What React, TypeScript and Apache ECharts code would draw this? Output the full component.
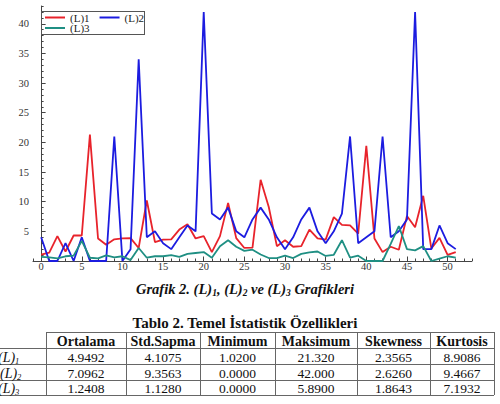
import React, { useEffect, useRef } from "react";
import * as echarts from "echarts";

// ---- Data ----
const seriesNames = ["(L)1", "(L)2", "(L)3"];
const L1 = [1.07, 1.4, 4.2, 1.6, 4.3, 4.3, 21.32, 3.8, 2.75, 3.65, 3.8, 3.85, 2.2, 10.2, 3.2, 3.6, 3.65, 5.3, 6.2, 3.8, 4.2, 1.5, 4.2, 9.8, 3.85, 2.2, 2.25, 13.7, 9.1, 2.5, 3.5, 2.4, 2.5, 5.3, 3.8, 3.6, 7.4, 6.1, 6.0, 4.6, 19.4, 3.8, 1.5, 2.4, 1.9, 7.6, 5.7, 11.0, 2.1, 3.9, 1.02, 1.5];
const L2 = [4, 0, 0, 3, 0, 4, 0, 0, 0, 21, 0, 2, 34, 4, 5, 3, 2, 4, 6, 5, 42, 8, 7, 9, 5, 4, 7, 9, 7, 4, 2, 4, 7, 9, 5, 3, 5, 8, 21, 3, 4, 5, 21, 4, 5, 7, 42, 2, 2, 6, 3, 2];
const L3 = [0.7, 0.6, 0.45, 0.8, 0.9, 3.4, 0.55, 0.45, 0.95, 0.6, 0.8, 0.15, 2.2, 0.55, 0.8, 0.8, 1.0, 0.7, 1.2, 1.35, 1.5, 0.55, 2.5, 3.5, 2.4, 1.7, 1.9, 1.1, 0.5, 0.5, 0.9, 0.5, 1.2, 1.45, 1.6, 0.85, 1.05, 3.5, 0.55, 0.9, 0, 0, 0, 2.9, 5.89, 2.0, 1.8, 2.5, 0, 0.4, 0.8, 0.55];
const seriesColors = ["#e8232b", "#1c1ce0", "#1f8f83"];

const xMajorTicks = [0, 5, 10, 15, 20, 25, 30, 35, 40, 45, 50];
const yMajorTicks = [5, 10, 15, 20, 25, 30, 35, 40];

const captionParts = ["Grafik 2. (L)", "1", ", (L)", "2", " ve (L)", "3", " Grafikleri"];
const tableTitle = "Tablo 2. Temel İstatistik Özellikleri";
const tableHeaders = ["Ortalama", "Std.Sapma", "Minimum", "Maksimum", "Skewness", "Kurtosis"];
const rowLabelSubs = ["1", "2", "3"];
const rowL1 = ["4.9492", "4.1075", "1.0200", "21.320", "2.3565", "8.9086"];
const rowL2 = ["7.0962", "9.3563", "0.0000", "42.000", "2.6260", "9.4667"];
const rowL3 = ["1.2408", "1.1280", "0.0000", "5.8900", "1.8643", "7.1932"];

// ---- Layout ----
const X_MIN = -1, X_MAX = 53, Y_MIN = 0, Y_MAX = 43;
const GRID = { left: 33, top: 6, width: 439, height: 255 };
const SERIF = "Liberation Serif";
const colEdges = [46, 126, 200, 275, 357, 430, 494];
const rowEdges = [332, 348, 364, 380, 395];
const legendBox = { left: 41, top: 11, width: 104, height: 24 };

function range(a: number, b: number) {
  const r: number[] = [];
  for (let i = a; i <= b; i++) r.push(i);
  return r;
}

export default function App() {
  const ref = useRef<HTMLDivElement>(null);
  useEffect(() => {
    if (!ref.current) return;
    const chart = echarts.init(ref.current, undefined, { renderer: "svg" });
    const axisColor = "#444";
    const labelStyle = { fontFamily: SERIF, fontSize: 10.5, color: "#333" };

    const graphic: any[] = [];

    // caption
    const capRich = {
      b: { fontFamily: SERIF, fontSize: 14.5, fontWeight: "bold", fontStyle: "italic", fill: "#111", lineHeight: 18, verticalAlign: "middle" },
      s: { fontFamily: SERIF, fontSize: 9.5, fontWeight: "bold", fontStyle: "italic", fill: "#111", lineHeight: 18, verticalAlign: "bottom", padding: [6, 0, 0, 0] },
    };
    const capText = captionParts.map((p, i) => (i % 2 === 0 ? `{b|${p}}` : `{s|${p}}`)).join("");
    graphic.push({ type: "text", x: 245, y: 289, style: { text: capText, rich: capRich, align: "center", verticalAlign: "middle", textAlign: "center", textVerticalAlign: "middle" } });

    // table title
    graphic.push({ type: "text", x: 245, y: 323, style: { text: tableTitle, fontFamily: SERIF, fontSize: 15, fontWeight: "bold", fill: "#111", align: "center", verticalAlign: "middle", textAlign: "center", textVerticalAlign: "middle" } });

    // table lines
    const lineStyle = { stroke: "#666", lineWidth: 1 };
    graphic.push({ type: "line", shape: { x1: colEdges[0], y1: rowEdges[0] + 0.5, x2: colEdges[6], y2: rowEdges[0] + 0.5 }, style: lineStyle });
    for (let r = 1; r < rowEdges.length; r++) {
      graphic.push({ type: "line", shape: { x1: -5, y1: rowEdges[r] + 0.5, x2: colEdges[6], y2: rowEdges[r] + 0.5 }, style: lineStyle });
    }
    colEdges.forEach((cx) => {
      graphic.push({ type: "line", shape: { x1: cx + 0.5, y1: rowEdges[0], x2: cx + 0.5, y2: rowEdges[rowEdges.length - 1] }, style: lineStyle });
    });
    // headers
    tableHeaders.forEach((h, i) => {
      graphic.push({ type: "text", x: (colEdges[i] + colEdges[i + 1]) / 2, y: (rowEdges[0] + rowEdges[1]) / 2 + 1, style: { text: h, fontFamily: SERIF, fontSize: 14, fontWeight: "bold", fill: "#111", align: "center", verticalAlign: "middle", textAlign: "center", textVerticalAlign: "middle" } });
    });
    const rows = [rowL1, rowL2, rowL3];
    const lblRich = {
      i: { fontFamily: SERIF, fontSize: 14, fontStyle: "italic", fill: "#111", lineHeight: 16, verticalAlign: "middle" },
      s: { fontFamily: SERIF, fontSize: 8.5, fontStyle: "italic", fill: "#111", lineHeight: 16, verticalAlign: "bottom", padding: [5, 0, 0, 0] },
    };
    rows.forEach((row, r) => {
      const cy = (rowEdges[r + 1] + rowEdges[r + 2]) / 2 + 1;
      graphic.push({ type: "text", x: r === 1 ? 0 : -2, y: cy, style: { text: `{i|(L)}{s|${rowLabelSubs[r]}}`, rich: lblRich, align: "left", verticalAlign: "middle", textAlign: "left", textVerticalAlign: "middle" } });
      row.forEach((v, c) => {
        graphic.push({ type: "text", x: (colEdges[c] + colEdges[c + 1]) / 2, y: cy, style: { text: v, fontFamily: SERIF, fontSize: 13.5, fill: "#111", align: "center", verticalAlign: "middle", textAlign: "center", textVerticalAlign: "middle" } });
      });
    });

    const legendText = { fontFamily: SERIF, fontSize: 11, color: "#222" };
    const data = [L1, L2, L3];
    chart.setOption({
      animation: false,
      backgroundColor: "#fff",
      grid: { ...GRID, containLabel: false },
      legend: [
        {
          data: [seriesNames[0], seriesNames[1]], left: 45, top: 12, padding: 0,
          itemWidth: 20, itemHeight: 2, icon: "rect", itemGap: 10, textStyle: legendText,
        },
        {
          data: [seriesNames[2]], left: 45, top: 22.5, padding: 0,
          itemWidth: 20, itemHeight: 2, icon: "rect", itemGap: 10, textStyle: legendText,
        },
      ],
      xAxis: [
        {
          type: "value", min: X_MIN, max: X_MAX, position: "bottom", offset: 0,
          axisLine: { show: true, lineStyle: { color: axisColor, width: 1 } },
          axisTick: { show: true, inside: true, length: 2.5, customValues: range(X_MIN, X_MAX), lineStyle: { color: axisColor } },
          axisLabel: { show: false },
          splitLine: { show: false },
        },
        {
          type: "value", min: X_MIN, max: X_MAX, position: "bottom", offset: 0,
          axisLine: { show: false },
          axisTick: { show: true, inside: true, length: 4.5, customValues: xMajorTicks, lineStyle: { color: axisColor } },
          axisLabel: { show: true, customValues: xMajorTicks, margin: 0, ...labelStyle },
          splitLine: { show: false },
        },
      ],
      yAxis: [
        {
          type: "value", min: Y_MIN, max: Y_MAX, position: "left", offset: 0,
          axisLine: { show: true, lineStyle: { color: axisColor, width: 1 } },
          axisTick: { show: true, inside: true, length: 2.5, customValues: range(Y_MIN, Y_MAX), lineStyle: { color: axisColor } },
          axisLabel: { show: false },
          splitLine: { show: false },
        },
        {
          type: "value", min: Y_MIN, max: Y_MAX, position: "left", offset: 0,
          axisLine: { show: false },
          axisTick: { show: true, inside: true, length: 4.5, customValues: yMajorTicks, lineStyle: { color: axisColor } },
          axisLabel: { show: true, customValues: yMajorTicks, margin: 4, ...labelStyle },
          splitLine: { show: false },
        },
      ],
      series: data.map((arr, k) => ({
        name: seriesNames[k],
        type: "line",
        xAxisIndex: 0,
        yAxisIndex: 0,
        data: arr.map((v, i) => [i, v]),
        showSymbol: false,
        symbol: "none",
        color: seriesColors[k],
        lineStyle: { color: seriesColors[k], width: 1.8 },
      })),
      graphic,
    });
    return () => chart.dispose();
  }, []);
  return (
    <div style={{ position: "absolute", left: 0, top: 0, width: 500, height: 404 }}>
      <div ref={ref} style={{ position: "absolute", left: 0, top: 0, width: 500, height: 404 }} />
      <div
        style={{
          position: "absolute",
          left: legendBox.left,
          top: legendBox.top,
          width: legendBox.width,
          height: legendBox.height,
          boxSizing: "border-box",
          border: "1px solid #555",
          pointerEvents: "none",
        }}
      />
    </div>
  );
}
